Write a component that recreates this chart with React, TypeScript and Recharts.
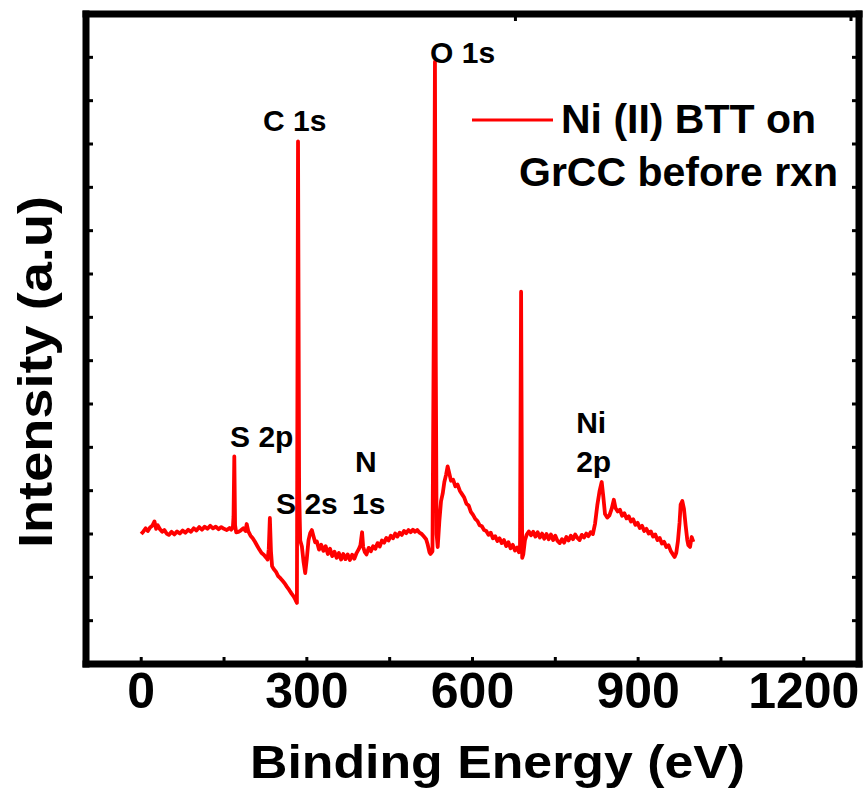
import React from "react";
import {
  LineChart,
  Line,
  XAxis,
  YAxis,
  ReferenceDot,
  Customized,
} from "recharts";

// XPS survey spectrum (energy in eV, intensity in a.u.)
const energy = [
  0, 4, 8, 12, 16, 20, 24, 27, 30, 34, 38, 42, 46, 50, 55, 60, 65, 70, 75, 80,
  85, 90, 95, 100, 105, 110, 115, 120, 125, 130, 135, 140, 145, 150, 155, 160,
  163, 166, 167.2, 168.6, 170, 172, 176, 180, 185, 189, 191, 194, 198, 202, 206,
  210, 214, 218, 222, 226, 229, 231, 233, 235, 237, 240, 244, 248, 252, 256,
  260, 264, 268, 272, 276, 279, 282, 284, 286, 288, 291, 294, 297, 300, 303,
  306, 309, 312, 315, 318, 322, 326, 330, 334, 338, 342, 346, 350, 354, 358,
  362, 366, 370, 374, 378, 382, 386, 390, 394, 397, 400, 402, 405, 408, 412,
  416, 420, 424, 428, 432, 436, 440, 444, 448, 452, 456, 460, 464, 468, 472,
  476, 480, 484, 488, 492, 496, 500, 504, 508, 512, 516, 519, 522, 524, 527.5,
  530, 532, 533.5, 535, 537, 540, 543, 546, 549, 552, 555, 558, 561, 565, 569,
  573, 577, 581, 585, 589, 593, 597, 601, 605, 609, 613, 617, 621, 625, 629,
  633, 637, 641, 645, 649, 653, 657, 661, 665, 669, 673, 677, 681, 684, 686,
  688, 690, 692, 695, 698, 702, 706, 710, 714, 718, 722, 726, 730, 734, 738,
  742, 746, 750, 754, 758, 762, 766, 770, 774, 778, 782, 786, 790, 794, 798,
  802, 806, 810, 814, 818, 822, 826, 830, 834, 837, 840, 844, 848, 852, 856,
  859, 863, 867, 871, 875, 879, 883, 887, 891, 895, 899, 903, 907, 911, 915,
  919, 923, 927, 931, 935, 939, 943, 947, 951, 955, 959, 963, 966, 969, 972,
  975, 977, 980, 983, 986, 989, 991, 994, 997, 1000,
];

const intensity = [
  30.0, 30.6, 31.3, 30.7, 31.5, 31.9, 32.9, 31.2, 32.0, 31.1, 30.5, 30.9, 30.1,
  29.8, 30.5, 29.9, 30.6, 30.1, 30.8, 30.3, 31.0, 30.5, 31.3, 30.8, 31.6, 31.0,
  31.7, 31.2, 31.9, 31.3, 31.7, 31.1, 31.6, 31.2, 30.9, 31.4, 31.0, 31.5, 34.0,
  47.9, 32.0, 30.4, 30.5, 30.8, 31.3, 30.7, 32.3, 30.6, 29.6, 29.0, 28.2, 27.3,
  26.4, 25.6, 25.2, 24.6, 24.1, 26.5, 33.7, 26.0, 22.6, 21.9, 21.3, 20.3, 19.8,
  19.2, 18.6, 17.8, 17.1, 16.3, 15.6, 14.9, 14.1, 120.6, 40.0, 28.5, 27.1,
  23.6, 21.0, 24.4, 28.6, 30.2, 30.9, 29.5, 28.1, 28.3, 26.4, 27.5, 26.1, 27.2,
  25.4, 26.6, 24.9, 25.9, 24.5, 25.6, 24.1, 25.4, 24.2, 25.3, 24.0, 25.2, 24.3,
  25.6, 26.5, 27.4, 30.4, 27.0, 25.8, 25.3, 26.8, 26.0, 27.2, 26.6, 27.9, 27.1,
  28.5, 28.0, 29.1, 28.5, 29.6, 29.0, 30.1, 29.4, 30.3, 29.8, 30.7, 30.2, 30.9,
  30.4, 31.0, 30.5, 30.9, 30.3, 30.0, 29.4, 28.8, 27.5, 25.8, 25.4, 26.0, 80.0,
  139.0, 70.0, 30.0, 27.0, 33.0, 37.6, 39.3, 42.0, 43.6, 45.6, 44.0, 42.3,
  42.5, 41.0, 41.4, 40.0, 39.2, 38.4, 37.0, 36.6, 35.1, 34.4, 33.5, 33.0, 32.0,
  31.8, 30.9, 30.7, 29.8, 30.3, 29.0, 29.5, 28.4, 29.0, 27.9, 28.6, 27.2, 28.1,
  26.7, 27.5, 26.2, 26.9, 25.8, 27.2, 85.9, 24.5, 25.3, 28.6, 29.8, 30.6, 29.7,
  30.5, 29.4, 30.4, 29.2, 30.1, 28.9, 30.0, 28.8, 29.9, 28.6, 29.6, 28.4, 27.9,
  28.8, 28.0, 29.3, 28.5, 29.6, 28.8, 29.9, 29.1, 28.6, 29.8, 29.2, 30.1, 29.5,
  30.4, 30.0, 32.4, 36.6, 39.8, 42.0, 38.5, 34.6, 33.8, 34.3, 35.8, 37.9, 36.0,
  35.2, 35.6, 34.2, 34.8, 33.6, 34.1, 32.9, 33.4, 32.1, 32.6, 31.4, 31.9, 30.7,
  31.2, 30.1, 30.6, 29.4, 29.9, 28.6, 29.1, 27.8, 28.2, 27.0, 27.4, 26.1, 25.3,
  24.7, 25.6, 28.3, 32.6, 36.8, 37.6, 35.8, 32.0, 28.6, 27.4, 27.0, 29.3, 28.2,
  30.3,
];

const xTicks = [0, 150, 300, 450, 600, 750, 900, 1050, 1200];
const yTicks = [10, 20, 30, 40, 50, 60, 70, 80, 90, 100, 110, 120, 130, 140];

// peak names and the (eV, a.u.) point where each label text starts
const peakNames = ["C 1s", "O 1s", "S 2p", "S 2s", "N", "1s", "Ni", "2p"];
const peakEnergy = [220.7, 523.2, 160.9, 244.2, 387.3, 381.9, 787.7, 787.7];
const peakLevel = [122.9, 138.8, 50.1, 34.6, 44.3, 34.6, 53.3, 44.3];

const seriesName = ["Ni (II) BTT on", "GrCC before rxn"];

const rows = energy.map((ev, i) => ({ ev, counts: intensity[i] }));

const FONT = "'Liberation Sans', Arial, sans-serif";
const RED = "#ff0000";
const frame = { stroke: "#000", strokeWidth: 7, strokeLinecap: "square" as const };
const TICK = 7;

const peakTag = (text: string) => (p: any) => (
  <text x={p.cx} y={p.cy} fill="#000" fontSize={30} fontWeight={700} fontFamily={FONT}>
    {text}
  </text>
);

// inward tick marks, drawn by hand since the spines are thick
const BottomTick = (p: any) => {
  const v = p.payload.value;
  return (
    <g>
      <line x1={p.x} y1={p.y} x2={p.x} y2={p.y - TICK} stroke="#000" strokeWidth={3} />
      {v % 300 === 0 && (
        <text
          x={p.x}
          y={p.y + 43.5}
          textAnchor="middle"
          fill="#000"
          fontSize={50}
          fontWeight={700}
          fontFamily={FONT}
        >
          {v}
        </text>
      )}
    </g>
  );
};
const TopTick = (p: any) => (
  <line x1={p.x} y1={p.y} x2={p.x} y2={p.y + TICK} stroke="#000" strokeWidth={3} />
);
const LeftTick = (p: any) => (
  <line x1={p.x} y1={p.y} x2={p.x + TICK} y2={p.y} stroke="#000" strokeWidth={3} />
);
const RightTick = (p: any) => (
  <line x1={p.x} y1={p.y} x2={p.x - TICK} y2={p.y} stroke="#000" strokeWidth={3} />
);

function LegendBox() {
  return (
    <g>
      <line x1={472} y1={120} x2={553} y2={120} stroke={RED} strokeWidth={3} />
      <text x={561} y={133} fontSize={41} fontWeight={700} fontFamily={FONT} fill="#000">
        {seriesName[0]}
      </text>
      <text x={519} y={186} fontSize={41} fontWeight={700} fontFamily={FONT} fill="#000">
        {seriesName[1]}
      </text>
    </g>
  );
}

const XTitle = () => (
  <text
    x={250}
    y={778}
    fontSize={46}
    fontWeight={700}
    fontFamily={FONT}
    fill="#000"
    textLength={495}
    lengthAdjust="spacingAndGlyphs"
  >
    Binding Energy (eV)
  </text>
);

const YTitle = () => (
  <text
    x={0}
    y={0}
    transform="translate(52, 372) rotate(-90)"
    textAnchor="middle"
    fontSize={48}
    fontWeight={700}
    fontFamily={FONT}
    fill="#000"
    textLength={352}
    lengthAdjust="spacingAndGlyphs"
  >
    Intensity (a.u)
  </text>
);

export default function App() {
  return (
    <div style={{ width: 867, height: 793 }}>
      <style>{"body{margin:0}"}</style>
      <LineChart
        width={867}
        height={793}
        data={rows}
        margin={{ top: 13, right: 7, bottom: 0, left: 0 }}
      >
        <XAxis
          xAxisId="b"
          dataKey="ev"
          type="number"
          domain={[-100, 1300]}
          ticks={xTicks}
          height={129}
          axisLine={frame}
          tickLine={false}
          tickSize={0}
          tickMargin={0}
          tick={<BottomTick />}
          label={<XTitle />}
          allowDataOverflow
        />
        <XAxis
          xAxisId="t"
          orientation="top"
          type="number"
          domain={[-100, 1300]}
          ticks={xTicks}
          height={1}
          axisLine={frame}
          tickLine={false}
          tickSize={0}
          tickMargin={0}
          tick={<TopTick />}
          allowDataOverflow
        />
        <YAxis
          yAxisId="l"
          type="number"
          domain={[0, 150]}
          ticks={yTicks}
          width={86}
          axisLine={frame}
          tickLine={false}
          tickSize={0}
          tickMargin={0}
          tick={<LeftTick />}
          label={<YTitle />}
          allowDataOverflow
        />
        <YAxis
          yAxisId="r"
          orientation="right"
          type="number"
          domain={[0, 150]}
          ticks={yTicks}
          width={1}
          axisLine={frame}
          tickLine={false}
          tickSize={0}
          tickMargin={0}
          tick={<RightTick />}
          allowDataOverflow
        />
        <Line
          xAxisId="b"
          yAxisId="l"
          type="linear"
          dataKey="counts"
          stroke={RED}
          strokeWidth={3.8}
          strokeLinejoin="round"
          dot={false}
          isAnimationActive={false}
        />
        {peakNames.map((name, i) => (
          <ReferenceDot
            key={name + i}
            xAxisId="b"
            yAxisId="l"
            x={peakEnergy[i]}
            y={peakLevel[i]}
            r={0}
            shape={peakTag(name)}
          />
        ))}
        <Customized component={<LegendBox />} />
      </LineChart>
    </div>
  );
}
